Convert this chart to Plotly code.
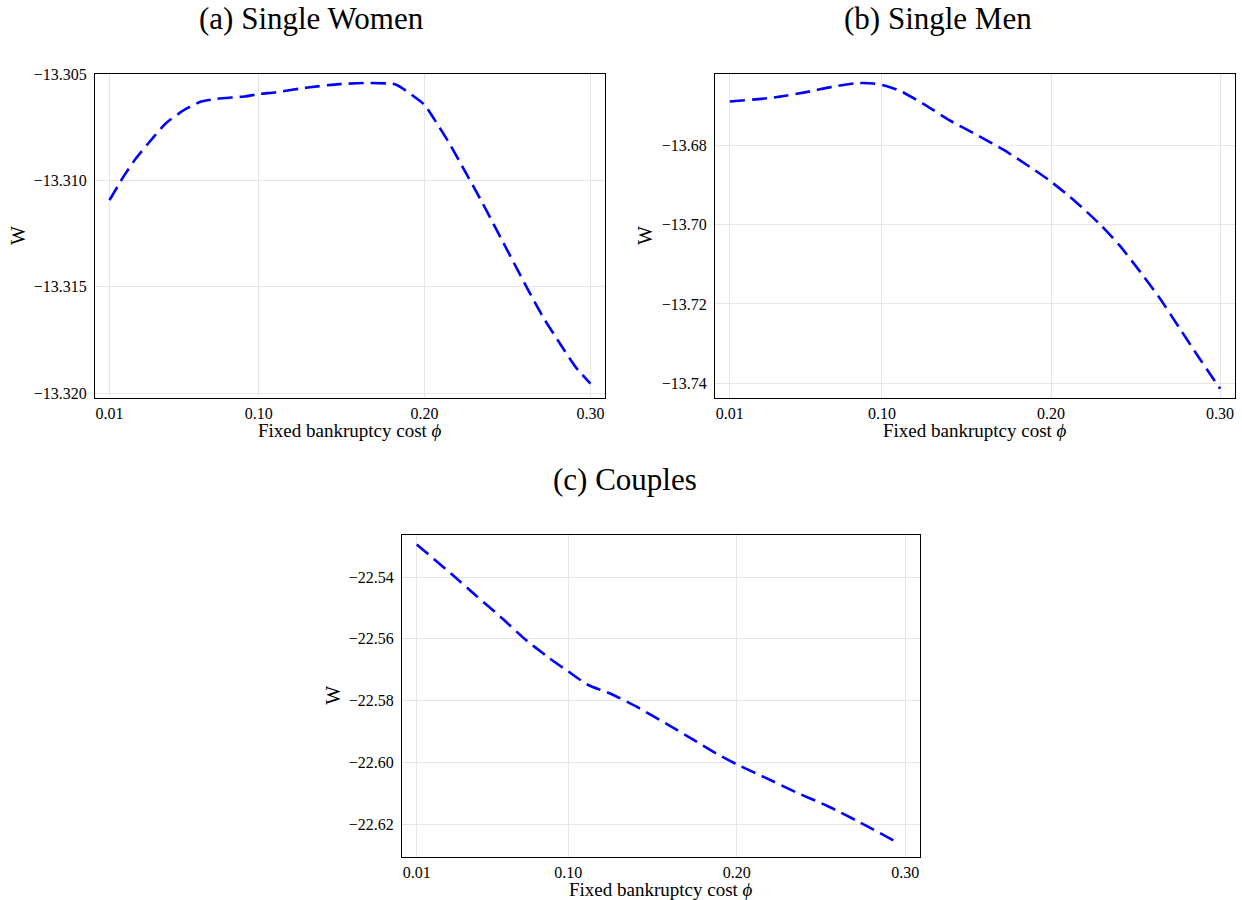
import plotly.graph_objects as go

# ---------------- data ----------------
x_women = [0.010, 0.019, 0.026, 0.0368, 0.044, 0.0558, 0.0653, 0.0748, 0.0915, 0.100,
           0.1105, 0.1295, 0.1485, 0.165, 0.1817, 0.1865, 0.1936, 0.200, 0.2059, 0.215,
           0.2245, 0.234, 0.2435, 0.253, 0.2625, 0.272, 0.2817, 0.291, 0.300]
w_women = [-13.31093, -13.30975, -13.30896, -13.30794, -13.30731, -13.30665, -13.30629,
           -13.30616, -13.30605, -13.30594, -13.30585, -13.30563, -13.30547, -13.30542,
           -13.30547, -13.30566, -13.30605, -13.30645, -13.30713, -13.30826, -13.30959,
           -13.31093, -13.31234, -13.31375, -13.31516, -13.31650, -13.31768, -13.31877,
           -13.31956]

x_men = [0.010, 0.0365, 0.0552, 0.0716, 0.0856, 0.095, 0.102, 0.1114, 0.1255, 0.1395,
         0.156, 0.172, 0.1887, 0.200, 0.2145, 0.2285, 0.2405, 0.2521, 0.2638, 0.2755,
         0.2872, 0.300]
w_men = [-13.66898, -13.66797, -13.66662, -13.66519, -13.66435, -13.66443, -13.66502,
         -13.66645, -13.66982, -13.67361, -13.67739, -13.68118, -13.68581, -13.68917,
         -13.69422, -13.69975, -13.70522, -13.71153, -13.71826, -13.72577, -13.73335,
         -13.74134]

x_couples = [0.010, 0.0315, 0.0456, 0.0597, 0.0738, 0.088, 0.100, 0.1115, 0.1255, 0.1419,
             0.1583, 0.1724, 0.1888, 0.200, 0.2169, 0.2356, 0.2544, 0.2732, 0.2943]
w_couples = [-22.52949, -22.53946, -22.54622, -22.55287, -22.55989, -22.56595, -22.57056,
             -22.57485, -22.57785, -22.58236, -22.58751, -22.59201, -22.59737, -22.60059,
             -22.60488, -22.60971, -22.61421, -22.61936, -22.62558]

x_tickvals = [0.01, 0.10, 0.20, 0.30]
x_ticktext = ["0.01", "0.10", "0.20", "0.30"]

y_tickvals_women = [-13.305, -13.310, -13.315, -13.320]
y_ticktext_women = ["\u221213.305", "\u221213.310", "\u221213.315", "\u221213.320"]
y_tickvals_men = [-13.68, -13.70, -13.72, -13.74]
y_ticktext_men = ["\u221213.68", "\u221213.70", "\u221213.72", "\u221213.74"]
y_tickvals_couples = [-22.54, -22.56, -22.58, -22.60, -22.62]
y_ticktext_couples = ["\u221222.54", "\u221222.56", "\u221222.58", "\u221222.60", "\u221222.62"]

titles = ["(a) Single Women", "(b) Single Men", "(c) Couples"]
x_title = "Fixed bankruptcy cost <i>\u03d5</i>"
y_title = "W"

# ---------------- figure ----------------
W, H = 1242, 900
FONT = "Liberation Serif"
LINE = dict(color="#0000ff", width=2.6, dash="15px,7px", shape="spline", smoothing=0.6)

fig = go.Figure()
fig.add_trace(go.Scatter(x=x_women, y=w_women, mode="lines", line=LINE,
                         xaxis="x", yaxis="y", showlegend=False))
fig.add_trace(go.Scatter(x=x_men, y=w_men, mode="lines", line=LINE,
                         xaxis="x2", yaxis="y2", showlegend=False))
fig.add_trace(go.Scatter(x=x_couples, y=w_couples, mode="lines", line=LINE,
                         xaxis="x3", yaxis="y3", showlegend=False))

# panel pixel boxes: left, right, top, bottom
boxes = [(95, 605, 67, 395), (715, 1235, 67, 395), (402, 920, 534, 860)]


def xd(l, r):
    return [l / W, r / W]


def yd(t, b):
    return [1 - b / H, 1 - t / H]


common_x = dict(tickvals=x_tickvals, ticktext=x_ticktext, showgrid=True,
                gridcolor="#e6e6e6", gridwidth=1, zeroline=False, showline=True,
                linecolor="black", linewidth=1, mirror=True, ticks="",
                ticklabelstandoff=1,
                tickfont=dict(family=FONT, size=16, color="black"))
common_y = dict(showgrid=True, gridcolor="#e6e6e6", gridwidth=1, zeroline=False,
                showline=True, linecolor="black", linewidth=1, mirror=True, ticks="",
                ticklabelstandoff=4,
                tickfont=dict(family=FONT, size=16, color="black"))

xr = [0.00125, 0.3088]
(a_l, a_r, a_t, a_b), (b_l, b_r, b_t, b_b), (c_l, c_r, c_t, c_b) = boxes
fig.update_layout(
    width=W, height=H,
    margin=dict(l=0, r=0, t=0, b=0),
    paper_bgcolor="white", plot_bgcolor="white",
    xaxis=dict(common_x, domain=xd(a_l, a_r), range=xr, anchor="y"),
    yaxis=dict(common_y, domain=yd(a_t, a_b), range=[-13.32022, -13.305],
               tickvals=y_tickvals_women, ticktext=y_ticktext_women, anchor="x"),
    xaxis2=dict(common_x, domain=xd(b_l, b_r), range=xr, anchor="y2"),
    yaxis2=dict(common_y, domain=yd(b_t, b_b), range=[-13.74362, -13.66208],
                tickvals=y_tickvals_men, ticktext=y_ticktext_men, anchor="x2"),
    xaxis3=dict(common_x, domain=xd(c_l, c_r), range=xr, anchor="y3"),
    yaxis3=dict(common_y, domain=yd(c_t, c_b), range=[-22.6304, -22.52638],
                tickvals=y_tickvals_couples, ticktext=y_ticktext_couples, anchor="x3"),
)

# titles and axis titles as annotations
title_pos = [(311, 11), (938, 11), (625, 478)]
for (tx, ty), t in zip(title_pos, titles):
    fig.add_annotation(text=t, x=tx / W, y=1 - ty / H, xref="paper", yref="paper",
                       showarrow=False, xanchor="center", yanchor="middle",
                       font=dict(family=FONT, size=31, color="black"))

for (l, r, t, b) in boxes:
    fig.add_annotation(text=x_title, x=(l + r) / 2 / W, y=1 - (b + 33) / H,
                       xref="paper", yref="paper", showarrow=False,
                       xanchor="center", yanchor="middle",
                       font=dict(family=FONT, size=19, color="black"))

ytitle_x = [18, 645, 333]
for xx, (l, r, t, b) in zip(ytitle_x, boxes):
    fig.add_annotation(text=y_title, x=xx / W, y=1 - ((t + b) / 2) / H,
                       xref="paper", yref="paper", showarrow=False, textangle=-90,
                       xanchor="center", yanchor="middle",
                       font=dict(family=FONT, size=20, color="black"))

fig.write_html("out.html", config={"displayModeBar": False},
               post_script="document.body.style.margin='0';document.body.style.overflow='hidden';")
